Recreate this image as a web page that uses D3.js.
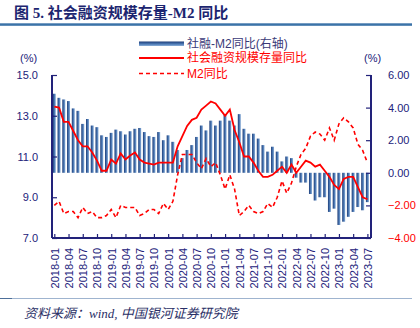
<!DOCTYPE html>
<html>
<head>
<meta charset="utf-8">
<title>社会融资规模存量-M2 同比</title>
<script src="https://cdnjs.cloudflare.com/ajax/libs/d3/7.8.5/d3.min.js"></script>
<style>
  body { margin: 0; background: #fff; }
  svg text { font-family: "Liberation Sans", Arial, "Noto Sans CJK SC", sans-serif; }
</style>
</head>
<body>
<div id="chart"></div>
<script>
// monthly series, 2018-01 .. 2023-07 (%)
var months = d3.timeMonths(new Date(2018, 0, 1), new Date(2023, 7, 1)).map(d3.timeFormat("%Y-%m"));

// 社会融资规模存量同比
var tsf = [
  13.45, 13.4, 12.7, 12.7, 12.25, 11.8, 11.5, 11.5, 11.2, 10.8, 10.3, 10.3,
  10.85, 10.65, 11.15, 10.85, 11.05, 11.2, 10.85, 10.7, 10.65, 10.6, 10.7, 10.7,
  10.7, 10.7, 11.5, 12.0, 12.5, 12.8, 12.9, 13.3, 13.5, 13.7, 13.6, 13.3,
  13.0, 13.3, 12.3, 11.7, 11.0, 11.0, 10.7, 10.3, 10.0, 10.0, 10.1, 10.3,
  10.5, 10.2, 10.6, 10.2, 10.5, 10.8, 10.7, 10.5, 10.6, 10.3, 10.0, 9.6,
  9.4, 9.9, 10.0, 10.0, 9.5, 9.0, 8.9
];

// M2同比
var m2 = [
  8.6, 8.8, 8.2, 8.3, 8.3, 8.0, 8.5, 8.2, 8.3, 8.0, 8.0, 8.1,
  8.4, 8.0, 8.6, 8.5, 8.5, 8.5, 8.1, 8.2, 8.4, 8.4, 8.2, 8.7,
  8.4, 8.8, 10.1, 11.1, 11.1, 11.1, 10.7, 10.4, 10.9, 10.5, 10.7, 10.1,
  9.4, 10.1, 9.4, 8.1, 8.3, 8.6, 8.3, 8.2, 8.3, 8.7, 8.5, 9.0,
  9.8, 9.2, 9.7, 10.5, 11.1, 11.4, 12.0, 12.2, 12.1, 11.8, 12.4, 11.8,
  12.6, 12.9, 12.7, 12.4, 11.6, 11.3, 10.7
];

// 社融-M2同比 (right axis)
var spread = [
  4.85, 4.6, 4.5, 4.4, 3.95, 3.8, 3.0, 3.3, 2.9, 2.8, 2.3, 2.2,
  2.45, 2.65, 2.55, 2.35, 2.55, 2.7, 2.75, 2.5, 2.25, 2.2, 2.5, 2.0,
  2.3, 1.9, 1.4, 0.9, 1.4, 1.7, 2.2, 2.9, 2.6, 3.2, 2.9, 3.2,
  3.6, 3.2, 2.9, 3.6, 2.7, 2.4, 2.4, 2.1, 1.7, 1.3, 1.6, 1.3,
  0.7, 1.0, 0.9, -0.3, -0.6, -0.6, -1.3, -1.7, -1.5, -1.5, -2.4, -2.2,
  -3.2, -3.0, -2.7, -2.4, -2.1, -2.3, -1.8
];

var xTicks = ["2018-01","2018-04","2018-07","2018-10","2019-01","2019-04","2019-07","2019-10",
  "2020-01","2020-04","2020-07","2020-10","2021-01","2021-04","2021-07","2021-10",
  "2022-01","2022-04","2022-07","2022-10","2023-01","2023-04","2023-07"];
var leftTicks = [7, 9, 11, 13, 15];
var rightTicks = [-4, -2, 0, 2, 4, 6];

var navy = "#22227a", red = "#ff0000";
var W = 420, H = 328;
var plot = {left: 52, right: 371, top: 75, bottom: 238};

var svg = d3.select("#chart").append("svg")
  .attr("width", W).attr("height", H);

// shaded fill for the bars (across the bar) and the legend swatch (top to bottom)
var defs = svg.append("defs");
function addGrad(id, vertical) {
  var g = defs.append("linearGradient").attr("id", id)
    .attr("x1", "0%").attr("y1", "0%")
    .attr("x2", vertical ? "0%" : "100%").attr("y2", vertical ? "100%" : "0%");
  g.append("stop").attr("offset", "0%").attr("stop-color", "#1c3c78");
  g.append("stop").attr("offset", "60%").attr("stop-color", "#4f7db8");
  g.append("stop").attr("offset", "100%").attr("stop-color", "#8fb0d8");
}
addGrad("barGrad", false);
addGrad("barGradH", true);

// title + rule
svg.append("text").attr("x", 14).attr("y", 18)
  .style("font-family", "'Liberation Serif', 'Noto Sans CJK SC', serif")
  .style("font-size", "15px").style("font-weight", "bold").attr("fill", "#1c2570")
  .text("图  5. 社会融资规模存量-M2 同比");
svg.append("rect").attr("x", 0).attr("y", 23.3).attr("width", 412).attr("height", 2.5)
  .attr("fill", "#3b73a8");

// scales
var x = d3.scalePoint().domain(months).range([54.3, 367.4]);
var yL = d3.scaleLinear().domain([7, 15]).range([plot.bottom, plot.top]);
var yR = d3.scaleLinear().domain([-4, 6]).range([plot.bottom, plot.top]);

// bars
var bw = 3;
svg.append("g").selectAll("rect")
  .data(spread)
  .enter().append("rect")
  .attr("x", function(d, i) { return x(months[i]) - bw / 2; })
  .attr("y", function(d) { return yR(Math.max(0, d)); })
  .attr("width", bw)
  .attr("height", function(d) { return Math.abs(yR(d) - yR(0)); })
  .attr("fill", "url(#barGrad)");

// lines
var lineL = d3.line()
  .x(function(d, i) { return x(months[i]); })
  .y(function(d) { return yL(d); });
svg.append("path").datum(m2).attr("d", lineL)
  .attr("fill", "none").attr("stroke", red).attr("stroke-width", 1.6)
  .attr("stroke-dasharray", "4,3");
svg.append("path").datum(tsf).attr("d", lineL)
  .attr("fill", "none").attr("stroke", red).attr("stroke-width", 1.8);

// axes
var axL = svg.append("g").attr("transform", "translate(" + plot.left + ",0)")
  .call(d3.axisLeft(yL).tickValues(leftTicks).tickSize(-5).tickPadding(14)
    .tickFormat(d3.format(".1f")));
var axR = svg.append("g").attr("transform", "translate(" + plot.right + ",0)")
  .call(d3.axisRight(yR).tickValues(rightTicks).tickSize(-5).tickPadding(17)
    .tickFormat(d3.format(".2f")));
var axB = svg.append("g").attr("transform", "translate(0," + plot.bottom + ")")
  .call(d3.axisBottom(x).tickValues(xTicks).tickSize(-4).tickPadding(0));

[axL, axR, axB].forEach(function(a) {
  a.select(".domain").attr("stroke", navy).attr("stroke-width", 2);
  a.selectAll(".tick line").attr("stroke", navy).attr("stroke-width", 1.2);
  a.selectAll("text").attr("fill", navy).style("font-size", "11px");
});
axL.select(".domain").attr("d", "M0," + plot.top + "V" + plot.bottom);
axR.select(".domain").attr("d", "M0," + plot.top + "V" + plot.bottom);
axB.select(".domain").attr("d", "M" + plot.left + ",0H" + plot.right);
axR.selectAll(".tick text").attr("fill", function(d) { return d < 0 ? red : navy; });
axB.selectAll(".tick text")
  .attr("transform", "rotate(-90)")
  .attr("text-anchor", "end")
  .attr("x", -10).attr("y", 0).attr("dy", "0.35em");

// unit labels
svg.append("text").attr("x", 20).attr("y", 62).attr("fill", navy)
  .style("font-size", "11px").text("(%)");
svg.append("text").attr("x", 364).attr("y", 62).attr("fill", navy)
  .style("font-size", "11px").text("(%)");

// legend
var lg = svg.append("g");
lg.append("rect").attr("x", 139).attr("y", 41.5).attr("width", 45).attr("height", 4.5)
  .attr("fill", "url(#barGradH)");
lg.append("text").attr("x", 187).attr("y", 47.5).attr("fill", "#3a3a78")
  .style("font-size", "12px").text("社融-M2同比(右轴)");
lg.append("line").attr("x1", 139).attr("x2", 184).attr("y1", 58).attr("y2", 58)
  .attr("stroke", red).attr("stroke-width", 1.8);
lg.append("text").attr("x", 187).attr("y", 62).attr("fill", red)
  .style("font-size", "12px").text("社会融资规模存量同比");
lg.append("line").attr("x1", 139).attr("x2", 184).attr("y1", 73.5).attr("y2", 73.5)
  .attr("stroke", red).attr("stroke-width", 1.6).attr("stroke-dasharray", "4,3");
lg.append("text").attr("x", 187).attr("y", 78).attr("fill", red)
  .style("font-size", "12px").text("M2同比");

// footer
svg.append("line").attr("x1", 0).attr("x2", 412).attr("y1", 298.5).attr("y2", 298.5)
  .attr("stroke", "#9fb4cf").attr("stroke-width", 1);
svg.append("line").attr("x1", 0).attr("x2", 12).attr("y1", 298.5).attr("y2", 298.5)
  .attr("stroke", "#4d6f99").attr("stroke-width", 1);
svg.append("text").attr("x", 24).attr("y", 318)
  .style("font-family", "'Liberation Serif', 'Noto Sans CJK SC', serif")
  .style("font-size", "13px").style("font-style", "italic").attr("fill", "#2a2f66")
  .text("资料来源：wind, 中国银河证券研究院");
</script>
</body>
</html>
